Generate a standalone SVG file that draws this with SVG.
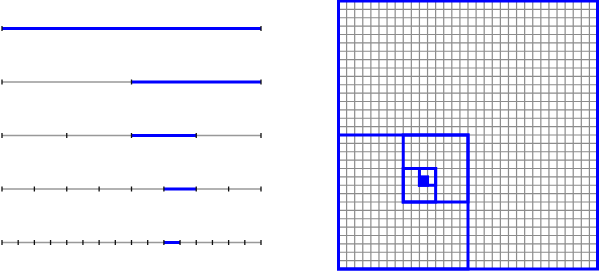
<svg xmlns="http://www.w3.org/2000/svg" width="599" height="271" viewBox="0 0 599 271">
<defs>
<style>
.base{stroke:#999;stroke-width:1.5;fill:none}
.seg{stroke:#0000ff;stroke-width:3;fill:none}
.tick{stroke:#111;stroke-width:1.3;fill:none}
.grid{stroke:#8c8c8c;stroke-width:1.2;fill:none}
.box{stroke:#0000ff;stroke-width:3;fill:none}
</style>
</defs>
<rect width="599" height="271" fill="#fff"/>
<g id="line1">
<line class="seg" x1="2" y1="28.5" x2="261" y2="28.5"/>
<path class="tick" d="M2 26v5M261 26v5"/>
</g>
<g id="line2">
<line class="base" x1="2" y1="82" x2="261" y2="82"/>
<line class="seg" x1="131.5" y1="82" x2="261" y2="82"/>
<path class="tick" d="M2 79.5v5M131.5 79.5v5M261 79.5v5"/>
</g>
<g id="line3">
<line class="base" x1="2" y1="135.5" x2="261" y2="135.5"/>
<line class="seg" x1="131.5" y1="135.5" x2="196.25" y2="135.5"/>
<path class="tick" d="M2 133v5M66.75 133v5M131.5 133v5M196.25 133v5M261 133v5"/>
</g>
<g id="line4">
<line class="base" x1="2" y1="189" x2="261" y2="189"/>
<line class="seg" x1="163.875" y1="189" x2="196.25" y2="189"/>
<path class="tick" d="M2 186.5v5M34.375 186.5v5M66.75 186.5v5M99.125 186.5v5M131.5 186.5v5M163.875 186.5v5M196.25 186.5v5M228.625 186.5v5M261 186.5v5"/>
</g>
<g id="line5">
<line class="base" x1="2" y1="242.5" x2="261" y2="242.5"/>
<line class="seg" x1="163.875" y1="242.5" x2="180.06" y2="242.5"/>
<path class="tick" d="M2 240v5M18.19 240v5M34.375 240v5M50.56 240v5M66.75 240v5M82.94 240v5M99.125 240v5M115.31 240v5M131.5 240v5M147.69 240v5M163.875 240v5M180.06 240v5M196.25 240v5M212.44 240v5M228.625 240v5M244.81 240v5M261 240v5"/>
</g>
<g id="grid">
<path class="grid" d="M346.59 1V269M354.69 1V269M362.78 1V269M370.88 1V269M378.97 1V269M387.06 1V269M395.16 1V269M403.25 1V269M411.34 1V269M419.44 1V269M427.53 1V269M435.63 1V269M443.72 1V269M451.81 1V269M459.91 1V269M468 1V269M476.09 1V269M484.19 1V269M492.28 1V269M500.38 1V269M508.47 1V269M516.56 1V269M524.66 1V269M532.75 1V269M540.84 1V269M548.94 1V269M557.03 1V269M565.13 1V269M573.22 1V269M581.31 1V269M589.41 1V269"/>
<path class="grid" d="M338.5 9.375H597.5M338.5 17.75H597.5M338.5 26.125H597.5M338.5 34.5H597.5M338.5 42.875H597.5M338.5 51.25H597.5M338.5 59.625H597.5M338.5 68H597.5M338.5 76.375H597.5M338.5 84.75H597.5M338.5 93.125H597.5M338.5 101.5H597.5M338.5 109.875H597.5M338.5 118.25H597.5M338.5 126.625H597.5M338.5 135H597.5M338.5 143.375H597.5M338.5 151.75H597.5M338.5 160.125H597.5M338.5 168.5H597.5M338.5 176.875H597.5M338.5 185.25H597.5M338.5 193.625H597.5M338.5 202H597.5M338.5 210.375H597.5M338.5 218.75H597.5M338.5 227.125H597.5M338.5 235.5H597.5M338.5 243.875H597.5M338.5 252.25H597.5M338.5 260.625H597.5"/>
</g>
<g id="square1"><rect class="box" x="338.5" y="1" width="259" height="268"/></g>
<g id="square2"><rect class="box" x="338.5" y="135" width="129.5" height="134"/></g>
<g id="square3"><rect class="box" x="403.25" y="135" width="64.75" height="67"/></g>
<g id="square4"><rect class="box" x="403.25" y="168.5" width="32.38" height="33.5"/></g>
<g id="square5"><rect class="box" x="419.44" y="168.5" width="16.19" height="16.75"/></g>
<g id="square6"><rect x="419.44" y="176.875" width="8.09" height="8.375" fill="#0000ff" stroke="#0000ff" stroke-width="3"/></g>
</svg>
